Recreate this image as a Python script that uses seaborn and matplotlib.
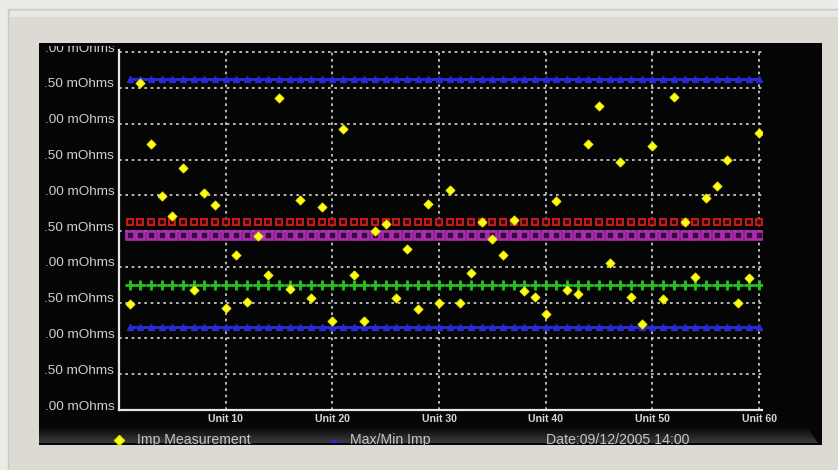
import numpy as np
import pandas as pd
import matplotlib
matplotlib.use("Agg")
import matplotlib.pyplot as plt
from matplotlib.colors import LinearSegmentedColormap
from matplotlib.patches import Rectangle, Polygon
from matplotlib.transforms import Bbox, TransformedBbox, ScaledTranslation
import seaborn as sns

# ---- data -------------------------------------------------------------
units = list(range(1, 61))
impedance = [1.48, 4.57, 3.71, 2.99, 2.71, 3.38, 1.68, 3.03, 2.87, 1.42,
             2.17, 1.51, 2.43, 1.88, 4.36, 1.69, 2.94, 1.56, 2.83, 1.24,
             3.93, 1.88, 1.25, 2.50, 2.60, 1.56, 2.25, 1.41, 2.88, 1.49,
             3.08, 1.49, 1.91, 2.63, 2.39, 2.17, 2.65, 1.66, 1.58, 1.34,
             2.92, 1.67, 1.62, 3.72, 4.25, 2.06, 3.46, 1.58, 1.20, 3.69,
             1.55, 4.37, 2.63, 1.86, 2.96, 3.13, 3.49, 1.49, 1.84, 3.87]

max_imp = 4.62
upper_limit = 2.63
upper_target = 2.44
nominal = 1.74
min_imp = 1.16

y_ticks = [0.0, 0.5, 1.0, 1.5, 2.0, 2.5, 3.0, 3.5, 4.0, 4.5, 5.0]
y_tick_labels = [".00 mOhms", ".50 mOhms", ".00 mOhms", ".50 mOhms",
                 ".00 mOhms", ".50 mOhms", ".00 mOhms", ".50 mOhms",
                 ".00 mOhms", ".50 mOhms", ".00 mOhms"]
x_ticks = [10, 20, 30, 40, 50, 60]
x_tick_labels = ["Unit 10", "Unit 20", "Unit 30", "Unit 40", "Unit 50", "Unit 60"]

legend_items = ["Imp Measurement", "Max/Min Imp"]
date_text = "Date:09/12/2005 14:00"

# ---- style ------------------------------------------------------------
sns.set_style("dark")
plt.rcParams["font.family"] = ["Liberation Sans", "DejaVu Sans"]

W, H = 838, 470
fig = plt.figure(figsize=(W / 100, H / 100), dpi=100)
fig.patch.set_facecolor("#ebebe8")

# background layer in pixel coordinates
bg = fig.add_axes([0, 0, 1, 1], zorder=-1)
bg.axis("off")

bg.add_patch(Rectangle((8, 9), 840, 470, facecolor="#dcdad3",
                       edgecolor="#c9c8c3", linewidth=1.0))
bg.add_patch(Rectangle((10, 11), 836, 6, facecolor="#e9e8e3",
                       edgecolor="none"))
bg.add_patch(Rectangle((39, 43), 783, 402, facecolor="#050505",
                       edgecolor="none"))

# glossy bevel along the bottom of the dark panel
bevel = Polygon([[39, 427], [807, 427], [818, 443], [39, 443]], closed=True,
                facecolor="none", edgecolor="none")
bg.add_patch(bevel)
grad = np.linspace(0, 1, 64).reshape(-1, 1)
img = bg.imshow(grad, extent=(39, 822, 443, 427),
                cmap=LinearSegmentedColormap.from_list("bevel", ["#060606", "#3c3c3c"]),
                aspect="auto", zorder=1)
img.set_clip_path(bevel)
bg.set_xlim(0, W)
bg.set_ylim(H, 0)

panel_clip = TransformedBbox(
    Bbox.from_extents(39 / W, 1 - 445 / H, 822 / W, 1 - 43 / H), fig.transFigure)
label_clip = TransformedBbox(
    Bbox.from_extents(39 / W, 1 - 445 / H, 822 / W, 1 - 45.5 / H), fig.transFigure)

# ---- main chart -------------------------------------------------------
ax = fig.add_axes([119 / W, (H - 410) / H, 643.4 / W, 360 / H])
ax.set_facecolor("none")

blue = "#2a2ad4"
ref_lines = [
    dict(value=max_imp, marker="^", ms=4.5, color=blue, mfc=blue, mec=blue,
         mew=1.0, lw=2.2),
    dict(value=upper_limit, marker="s", ms=5.0, color="#c01a1a", mfc="#2e0404",
         mec="#c01a1a", mew=1.5, lw=0),
    dict(value=upper_target, marker="s", ms=5.8, color="#ae2ab2", mfc="#340a36",
         mec="#ae2ab2", mew=1.9, lw=0),
    dict(value=nominal, marker="+", ms=7, color="#22c422", mfc="#22c422",
         mec="#22c422", mew=2.0, lw=0.8),
    dict(value=min_imp, marker="^", ms=4.5, color=blue, mfc=blue, mec=blue,
         mew=1.0, lw=2.2),
]
for spec in ref_lines:
    df = pd.DataFrame({"unit": units, "imp": [spec["value"]] * len(units)})
    sns.lineplot(data=df, x="unit", y="imp", ax=ax, color=spec["color"],
                 linewidth=spec["lw"], marker=spec["marker"],
                 markersize=spec["ms"], markerfacecolor=spec["mfc"],
                 markeredgecolor=spec["mec"], markeredgewidth=spec["mew"],
                 zorder=3)

meas = pd.DataFrame({"unit": units, "imp": impedance})
sns.scatterplot(data=meas, x="unit", y="imp", ax=ax, marker="D", s=22,
                color="#ffff14", edgecolor="#e4e400", linewidth=0.6, zorder=5)

ax.set_xlim(0, 60.3)
ax.set_ylim(0, 5.03)
ax.set_xlabel("")
ax.set_ylabel("")
ax.set_xticks(x_ticks, x_tick_labels)
ax.set_yticks(y_ticks, y_tick_labels)

ax.grid(True, color="#d4d4d4", linestyle=(0, (1.6, 2.2)), linewidth=1.2)
for side in ("top", "right"):
    ax.spines[side].set_visible(False)
for side in ("left", "bottom"):
    ax.spines[side].set_visible(True)
    ax.spines[side].set_color("#e6e6e6")
    ax.spines[side].set_linewidth(1.6)

ax.tick_params(axis="y", length=0, pad=3.4, labelsize=9.7, labelcolor="#cfcfcf")
ax.tick_params(axis="x", length=0, pad=3.0, labelsize=7.6, labelcolor="#d6d6d6")
for lbl in ax.get_xticklabels():
    lbl.set_fontweight("bold")

lift = ScaledTranslation(0, 5 / 100, fig.dpi_scale_trans)
for lbl in ax.get_yticklabels():
    lbl.set_transform(lbl.get_transform() + lift)
    lbl.set_clip_box(label_clip)
    lbl.set_clip_on(True)

# ---- legend row -------------------------------------------------------
text_kw = dict(va="center", ha="left", fontsize=10.2, color="#c4c4c4", zorder=5)
bg.plot([119], [440], marker="D", ms=5.0, color="#ffff14", mec="#e4e400",
        ls="none", zorder=5)
t1 = bg.text(137, 440, legend_items[0], **text_kw)
bg.plot([331, 343], [441, 441], color=blue, lw=2, ls=(0, (2.5, 1.5)), zorder=5)
t2 = bg.text(350, 440, legend_items[1], **text_kw)
t3 = bg.text(546, 440, date_text, **text_kw)
for t in (t1, t2, t3):
    t.set_clip_box(panel_clip)
    t.set_clip_on(True)

fig.savefig("out.png", dpi=100, facecolor=fig.get_facecolor())
